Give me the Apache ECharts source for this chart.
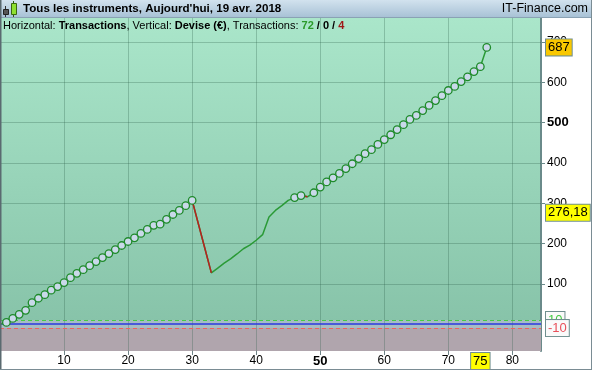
<!DOCTYPE html>
<html><head><meta charset="utf-8">
<script src="https://cdn.jsdelivr.net/npm/echarts@6/dist/echarts.min.js"></script>
<style>html,body{margin:0;padding:0;background:#fff}#c{width:592px;height:370px}</style>
</head><body><div id="c"></div>
<script>
// ---- data ----
const transactionIndex = [0,1,2,3,4,5,6,7,8,9,10,11,12,13,14,15,16,17,18,19,20,21,22,23,24,25,26,27,28,29,30,
  31,32,33,34,35,36,37,38,39,40,41,42,43,44,45,46,47,48,49,50,51,52,53,54,55,56,57,58,59,60,
  61,62,63,64,65,66,67,68,69,70,71,72,73,74,75,76];
const equity = [0,
  4,14,24,34,53,64,73,84,93,103,115,126,135,145,155,165,175,185,195,205,214,225,235,245,248,260,272,282,294,307,
  247,187,127,139,151,162,174,187,196,208,222,266,282,294,307,314,319,316,
  326,340,353,363,374,386,398,411,423,433,446,458,470,483,495,508,518,530,543,555,567,580,590,602,614,627,639,687];
const lossSegments = [[30,33],[47,48]];
const unmarkedPoints = [0,31,32,33,34,35,36,37,38,39,40,41,42,43,44,45,48];
const xTickValues = [10,20,30,40,50,60,70,80];
const yTickValues = [100,200,300,400,500,600,700];
const boldXTick = 50, boldYTick = 500;
const upperLevel = 10, zeroLevel = 0, lowerLevel = -10;
const lastValue = 687, averageValue = 276.18, cursorTransaction = 75;
const winCount = 72, neutralCount = 0, lossCount = 4;

// ---- chart ----
const FONT = '"Liberation Sans", Arial, sans-serif';
const X_MIN = 0, X_MAX = 84.47, Y_MIN = -67, Y_MAX = 760;
const chart = echarts.init(document.getElementById('c'));

const linePts = transactionIndex.map((t, i) => [t, equity[i]]);
const markerPts = linePts.filter(p => unmarkedPoints.indexOf(p[0]) < 0);
const lossSeries = lossSegments.map(([a, b]) => ({
  type: 'line', z: 5, silent: true, showSymbol: false,
  lineStyle: { color: '#b82020', width: 1.5 },
  data: linePts.filter(p => p[0] >= a && p[0] <= b)
}));
const boldFmt = b => v => (v === b ? '{b|' + v + '}' : String(v));
const boxLabel = { show: true, position: 'end', distance: 5, fontFamily: FONT, fontSize: 13, color: '#000',
  borderColor: '#6f8f8f', borderWidth: 1, padding: [2, 2, 1, 2] };

const option = {
  animation: false,
  grid: { left: 0, right: 51, top: 18, bottom: 19, show: true, borderWidth: 0,
    backgroundColor: new echarts.graphic.LinearGradient(0, 0, 0, 1, [
      { offset: 0, color: '#aae6ca' }, { offset: 1, color: '#84c0a6' }]) },
  xAxis: {
    type: 'value', min: X_MIN, max: X_MAX,
    axisLine: { show: false, onZero: false },
    splitLine: { show: false },
    axisTick: { show: true, length: 4, customValues: xTickValues, lineStyle: { color: '#6f8488' } },
    axisLabel: { customValues: xTickValues, margin: 4, color: '#000', fontSize: 12, fontFamily: FONT,
      formatter: boldFmt(boldXTick),
      rich: { b: { fontWeight: 'bold', fontSize: 13, fontFamily: FONT, color: '#000' } } }
  },
  yAxis: {
    type: 'value', position: 'right', min: Y_MIN, max: Y_MAX,
    axisLine: { show: true, onZero: false, lineStyle: { color: '#6a8a8a', width: 2 } },
    splitLine: { show: false },
    axisTick: { show: true, length: 4, customValues: yTickValues, lineStyle: { color: '#6a8a8a' } },
    axisLabel: { customValues: yTickValues, margin: 6, color: '#000', fontSize: 12, fontFamily: FONT,
      formatter: boldFmt(boldYTick),
      rich: { b: { fontWeight: 'bold', fontSize: 13, fontFamily: FONT, color: '#000' } } }
  },
  series: [
    { // bands + grid lines
      type: 'line', z: 1, silent: true, showSymbol: false, data: linePts,
      lineStyle: { width: 0, color: 'transparent' },
      markArea: { silent: true, z: 1, data: [
        [{ yAxis: upperLevel, itemStyle: { color: '#a6bcc4' } }, { yAxis: lowerLevel }],
        [{ yAxis: lowerLevel, itemStyle: { color: '#b0a5ad' } }, { yAxis: Y_MIN }]
      ] },
      markLine: { silent: true, z: 2, symbol: 'none', label: { show: false },
        lineStyle: { color: 'rgba(40,90,70,0.28)', type: 'solid', width: 1 },
        data: xTickValues.map(v => ({ xAxis: v })).concat(yTickValues.map(v => ({ yAxis: v }))) }
    },
    { // level lines
      type: 'line', z: 3, silent: true, showSymbol: false, data: linePts,
      lineStyle: { width: 0, color: 'transparent' },
      markLine: { silent: true, z: 3, symbol: 'none', label: { show: false }, data: [
        { yAxis: upperLevel, lineStyle: { color: '#44cc44', type: [4, 3], width: 1 } },
        { yAxis: zeroLevel, lineStyle: { color: '#2a3ae0', type: 'solid', width: 1.5 } },
        { yAxis: lowerLevel, lineStyle: { color: '#f06060', type: [4, 3], width: 1 } }
      ] }
    },
    { // equity curve
      type: 'line', z: 4, silent: true, showSymbol: false, data: linePts,
      lineStyle: { color: '#2a9a36', width: 1.5 }
    },
    ...lossSeries,
    { // trade markers
      type: 'scatter', z: 6, silent: true, data: markerPts, symbol: 'circle', symbolSize: 7.5,
      itemStyle: { color: '#c9d9e9', borderColor: '#1e8a2a', borderWidth: 1.3, opacity: 1 }
    },
    { // value boxes
      type: 'line', z: 7, silent: true, showSymbol: false, clip: false, data: linePts,
      lineStyle: { width: 0, color: 'transparent' },
      markLine: { silent: true, z: 7, symbol: 'none', lineStyle: { width: 0, color: 'transparent' }, label: boxLabel, data: [
        { yAxis: upperLevel, label: { formatter: String(upperLevel), color: '#44cc44', backgroundColor: '#fafafa' } },
        { yAxis: lowerLevel, label: { formatter: String(lowerLevel), color: '#e8505a', backgroundColor: '#fafafa' } },
        { yAxis: lastValue, label: { formatter: String(lastValue), backgroundColor: '#f9c800' } },
        { yAxis: averageValue, label: { formatter: averageValue.toFixed(2).replace('.', ','), backgroundColor: '#ffff00' } },
        { xAxis: cursorTransaction, label: { position: 'start', distance: 2, formatter: String(cursorTransaction), backgroundColor: '#ffff00' } }
      ] }
    }
  ],
  graphic: [
    { type: 'rect', z: 100, shape: { x: 0, y: 0, width: 592, height: 17 },
      style: { fill: new echarts.graphic.LinearGradient(0, 0, 0, 1, [
        { offset: 0, color: '#d2e2ee' }, { offset: 1, color: '#a8c2d6' }]) } },
    { type: 'line', z: 100, shape: { x1: 0, y1: 17.5, x2: 592, y2: 17.5 }, style: { stroke: '#8aa2b4', lineWidth: 1 } },
    // icon
    { type: 'line', z: 101, shape: { x1: 5.5, y1: 6, x2: 5.5, y2: 17 }, style: { stroke: '#303030', lineWidth: 1 } },
    { type: 'rect', z: 102, shape: { x: 3.5, y: 9.5, width: 5, height: 5 }, style: { fill: '#555', stroke: '#222', lineWidth: 1 } },
    { type: 'line', z: 101, shape: { x1: 13.5, y1: 1, x2: 13.5, y2: 17 }, style: { stroke: '#306010', lineWidth: 1 } },
    { type: 'rect', z: 102, shape: { x: 11.5, y: 3.5, width: 5, height: 11 }, style: { fill: '#8ee030', stroke: '#3a6a10', lineWidth: 1 } },
    { type: 'text', z: 101, x: 23, y: 9, style: { text: "Tous les instruments, Aujourd'hui, 19 avr. 2018",
      font: 'bold 11.6px ' + FONT, fill: '#000', verticalAlign: 'middle' } },
    { type: 'text', z: 101, x: 588, y: 9, style: { text: 'IT-Finance.com', font: '12.5px ' + FONT, fill: '#000',
      align: 'right', verticalAlign: 'middle' } },
    { type: 'text', z: 101, x: 3, y: 26, style: {
      text: 'Horizontal: {b|Transactions}, Vertical: {b|Devise (€)}, Transactions: {g|' + winCount + '}{b| / ' + neutralCount + ' / }{r|' + lossCount + '}',
      font: '11px ' + FONT, fill: '#000', verticalAlign: 'middle',
      rich: {
        b: { fontWeight: 'bold', fontSize: 11, fontFamily: FONT, fill: '#000' },
        g: { fontWeight: 'bold', fontSize: 11, fontFamily: FONT, fill: '#2a9a2a' },
        r: { fontWeight: 'bold', fontSize: 11, fontFamily: FONT, fill: '#a01818' }
      } } },
    // borders
    { type: 'line', z: 100, shape: { x1: 0.5, y1: 0, x2: 0.5, y2: 370 }, style: { stroke: '#5a6a70', lineWidth: 2 } },
    { type: 'line', z: 100, shape: { x1: 0, y1: 369.5, x2: 592, y2: 369.5 }, style: { stroke: '#7a8c94', lineWidth: 1 } },
    { type: 'line', z: 100, shape: { x1: 591.5, y1: 0, x2: 591.5, y2: 370 }, style: { stroke: '#7a8c94', lineWidth: 1 } }
  ]
};
chart.setOption(option);
</script>
</body></html>
